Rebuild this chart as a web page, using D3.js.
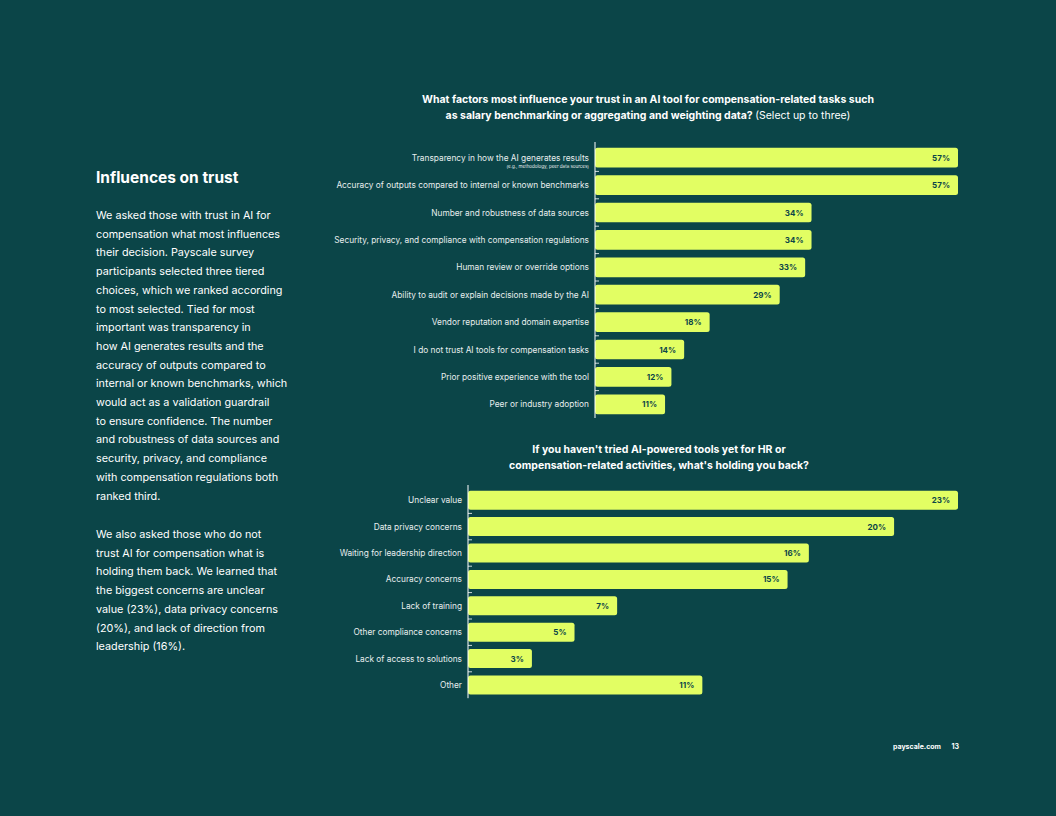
<!DOCTYPE html>
<html lang="en">
<head>
<meta charset="UTF-8">
<title>Influences on trust</title>
<script src="https://cdn.jsdelivr.net/npm/d3@7"></script>
<style>
    body { margin: 0; background: #0b4548; font-family: Inter, "Noto Sans", sans-serif; }
    .lab { fill: #e8eeee; font-size: 8.3px; }
    .val { fill: #0b4548; font-size: 8px; font-weight: 700; }
    .ttl { fill: #fff; font-size: 10.5px; font-weight: 700; }
</style>
</head>
<body>
<svg id="page" width="1056" height="816"></svg>
<script>
    var trustCats = ["Transparency in how the AI generates results", "Accuracy of outputs compared to internal or known benchmarks",
        "Number and robustness of data sources", "Security, privacy, and compliance with compensation regulations",
        "Human review or override options", "Ability to audit or explain decisions made by the AI",
        "Vendor reputation and domain expertise", "I do not trust AI tools for compensation tasks",
        "Prior positive experience with the tool", "Peer or industry adoption"];
    var trustVals = [57, 57, 34, 34, 33, 29, 18, 14, 12, 11];
    var holdCats = ["Unclear value", "Data privacy concerns", "Waiting for leadership direction", "Accuracy concerns",
        "Lack of training", "Other compliance concerns", "Lack of access to solutions", "Other"];
    var holdVals = [23, 20, 16, 15, 7, 5, 3, 11];

    var svg = d3.select('#page');

    // left text column
    svg.append('text').attr('x', 96).attr('y', 183).attr('fill', '#fff')
        .style('font-size', '15.5px').style('font-weight', 700).text('Influences on trust');
    var para1 = ["We asked those with trust in AI for", "compensation what most influences", "their decision. Payscale survey",
        "participants selected three tiered", "choices, which we ranked according", "to most selected. Tied for most",
        "important was transparency in", "how AI generates results and the", "accuracy of outputs compared to",
        "internal or known benchmarks, which", "would act as a validation guardrail", "to ensure confidence. The number",
        "and robustness of data sources and", "security, privacy, and compliance", "with compensation regulations both", "ranked third."];
    var para2 = ["We also asked those who do not", "trust AI for compensation what is", "holding them back. We learned that",
        "the biggest concerns are unclear", "value (23%), data privacy concerns", "(20%), and lack of direction from", "leadership (16%)."];
    function para(lines, y0) {
        svg.append('g').selectAll('text').data(lines).join('text')
            .attr('x', 96).attr('y', (d, i) => y0 + i * 18.7)
            .attr('fill', '#fff').style('font-size', '10.8px').text(d => d);
    }
    para(para1, 219);
    para(para2, 538);

    function chart(cats, vals, x0, xMax, maxVal, yTop, step, titleLines, titleX, titleOff) {
        var x = d3.scaleLinear().domain([0, maxVal]).range([x0, xMax]);
        var y = d3.scaleBand().domain(cats).range([yTop, yTop + step * cats.length]).paddingInner(0.28).paddingOuter(0.14);
        var g = svg.append('g');
        titleLines.forEach(function (t, i) {
            var tx = g.append('text').attr('class', 'ttl').attr('x', titleX).attr('y', yTop - titleOff + i * 16).attr('text-anchor', 'middle');
            tx.append('tspan').text(t[0]);
            if (t[1]) tx.append('tspan').style('font-weight', 400).text(t[1]);
        });
        g.selectAll('rect').data(vals).join('rect')
            .attr('x', x(0)).attr('y', (d, i) => y(cats[i]))
            .attr('width', d => x(d) - x(0)).attr('height', y.bandwidth())
            .attr('rx', 2.5).attr('fill', '#e2fe63');
        g.append('line').attr('x1', x0).attr('x2', x0).attr('y1', yTop - 2).attr('y2', yTop + step * cats.length)
            .attr('stroke', '#fff').attr('stroke-width', 1);
        // small ticks between bars
        g.selectAll('.tk').data(cats.slice(1)).join('line')
            .attr('x1', x0).attr('x2', x0 + 4)
            .attr('y1', d => y(d) - step * 0.14).attr('y2', d => y(d) - step * 0.14)
            .attr('stroke', '#fff').attr('stroke-width', 0.8);
        g.selectAll('.lab').data(cats).join('text').attr('class', 'lab')
            .attr('x', x0 - 6).attr('y', d => y(d) + y.bandwidth() / 2 + 3).attr('text-anchor', 'end').text(d => d);
        g.selectAll('.val').data(vals).join('text').attr('class', 'val')
            .attr('x', d => x(d) - 8).attr('y', (d, i) => y(cats[i]) + y.bandwidth() / 2 + 3)
            .attr('text-anchor', 'end').text(d => d + '%');
        return y;
    }

    var y1 = chart(trustCats, trustVals, 595, 958, 57, 144, 27.4,
        [["What factors most influence your trust in an AI tool for compensation-related tasks such"],
         ["as salary benchmarking or aggregating and weighting data? ", "(Select up to three)"]], 648, 41);
    svg.append('text').attr('x', 589).attr('y', y1(trustCats[0]) + y1.bandwidth() / 2 + 10)
        .attr('text-anchor', 'end').attr('fill', '#e8eeee').style('font-size', '4.5px')
        .text('(e.g., methodology, peer data sources)');

    chart(holdCats, holdVals, 468, 958, 23, 487, 26.4,
        [["If you haven't tried AI-powered tools yet for HR or"], ["compensation-related activities, what's holding you back?"]], 659, 34);

    svg.append('text').attr('x', 941).attr('y', 749).attr('text-anchor', 'end').attr('fill', '#fff')
        .style('font-size', '7px').style('font-weight', 700).text('payscale.com');
    svg.append('text').attr('x', 959).attr('y', 749).attr('text-anchor', 'end').attr('fill', '#fff')
        .style('font-size', '7px').style('font-weight', 700).text('13');
</script>
</body>
</html>
